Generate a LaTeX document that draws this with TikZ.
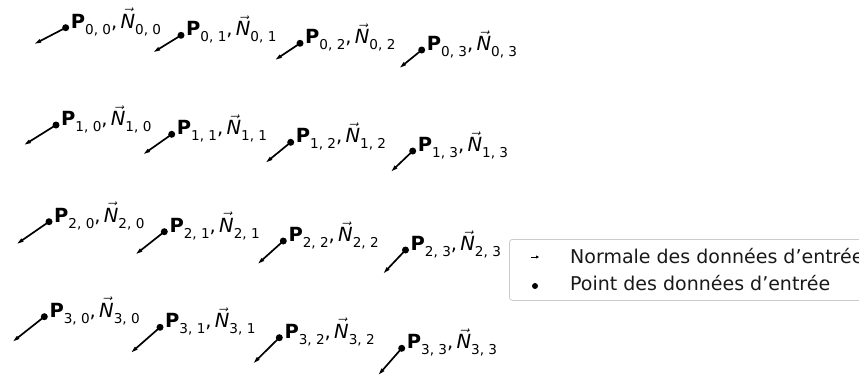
\documentclass[tikz,border=0pt]{standalone}
\usepackage{fontspec}
\setmainfont{DejaVu Sans}
\usepackage{tikz}
\usetikzlibrary{arrows.meta,calc,positioning}

\newcommand{\idx}[1]{\raisebox{-0.3em}{\fontsize{13.6}{14}\selectfont #1}}
\newcommand{\ptlabel}[2]{\textbf{P}\idx{#1, #2},\,$\vec{\mbox{\itshape N}}$\idx{#1, #2}}

\begin{document}
\begin{tikzpicture}[
  x=1pt, y=-1pt,
  every node/.style={text=black},
  point/.style={circle, fill=black, inner sep=0pt, minimum size=7pt},
  normal/.style={-{Triangle[length=7pt,width=3.4pt]}, line width=1.7pt, draw=black, shorten <=-2pt},
  plabel/.style={anchor=base west, inner sep=0pt, font=\fontsize{19.5}{20}\selectfont},
  legtext/.style={anchor=base west, inner sep=0pt, font=\fontsize{19}{20}\selectfont, text=black!90}
]
\clip (0,0) rectangle (859,376);

% ---- grid points with their normals ----
\foreach \i/\j/\px/\py/\tx/\ty in {
  0/0/65.7/27.7/34.3/44, 0/1/181/35.3/153.3/52.3, 0/2/300/43.3/275/60, 0/3/421.7/50/399.5/68,
  1/0/56/125/24/145, 1/1/171.7/134.3/143.3/154.3, 1/2/290.7/142.3/265.7/162.7, 1/3/412.7/151/391/171.7,
  2/0/49/221.7/16.7/244, 2/1/164.3/231.7/135.7/254.3, 2/2/283.3/241/257.7/264, 2/3/405.5/250/383.3/273.5,
  3/0/44.3/316.7/12.7/341.7, 3/1/160/327.3/131/352.7, 3/2/279.3/337.7/253.3/363.3, 3/3/401.7/348.3/378.3/375}{
  \coordinate (T\i\j) at (\tx,\ty);
  \node[point] (P\i\j) at (\px,\py) {};
  \draw[normal] (P\i\j.center) -- (T\i\j);
  \node[plabel] (L\i\j) at ($(P\i\j.center)+(5,0.5)$) {\ptlabel{\i}{\j}};
}

% ---- legend ----
\node[draw=black!20, fill=white, rounded corners=3pt, line width=0.8pt,
  minimum width=370pt, minimum height=61pt, anchor=north west] (legend) at (509,239) {};
\coordinate (A0) at (531,257);
\coordinate (A1) at (539,257);
\draw[-{Triangle[length=3pt,width=3pt]}, line width=1pt] (A0) -- (A1);
\node[point, minimum size=6pt] (D0) at (535,286) {};
\node[legtext] (leg1) at (570,263) {Normale des données d'entrée};
\node[legtext] (leg2) at (570,290) {Point des données d'entrée};

\end{tikzpicture}
\end{document}
